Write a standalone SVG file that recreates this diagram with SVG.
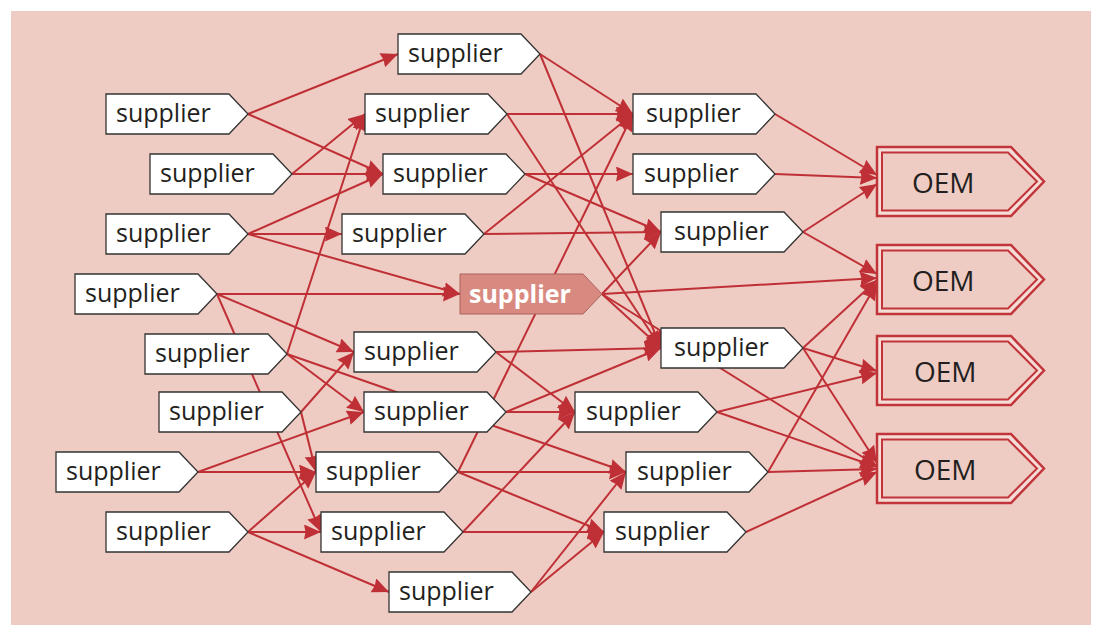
<svg xmlns="http://www.w3.org/2000/svg" xmlns:xlink="http://www.w3.org/1999/xlink" width="1093" height="626" viewBox="0 0 1093 626">
<style>
.box{fill:#ffffff;stroke:#333333;stroke-width:1.3}
.hl{fill:#d98a80;stroke:#a8625a;stroke-width:1}
.t{font-family:"Open Sans","Noto Sans",sans-serif;font-size:25px;fill:#231f20}
.th{font-family:"Open Sans","Noto Sans",sans-serif;font-size:25px;font-weight:bold;fill:#ffffff}
.oo{fill:#f5dcd6;stroke:#c1353a;stroke-width:2.5}
.oi{fill:#efccc3;stroke:#c1353a;stroke-width:2}
.to{font-family:"Open Sans","Noto Sans",sans-serif;font-size:28px;fill:#231f20}
#edges line{stroke:#bf3036;stroke-width:2;marker-end:url(#ah)}
</style>
<defs>
<marker id="ah" viewBox="0 0 17 15" refX="17" refY="7.5" markerWidth="17" markerHeight="15" markerUnits="userSpaceOnUse" orient="auto">
<path d="M0,0 L17,7.5 L0,15 L1.5,7.5 z" fill="#bf3036"/>
</marker>
<polygon id="sup" points="0,-20 123,-20 142,0 123,20 0,20"/>
<polygon id="oemO" points="0,-34.5 134,-34.5 167,0 134,34.5 0,34.5"/>
<polygon id="oemI" points="5,-29 131,-29 160,0 131,29 5,29"/>
</defs>
<rect x="11" y="11" width="1080" height="614" fill="#efccc3"/>
<g id="edges">
<line x1="248" y1="114" x2="398" y2="54"/>
<line x1="248" y1="114" x2="383" y2="174"/>
<line x1="292" y1="174" x2="365" y2="114"/>
<line x1="292" y1="174" x2="383" y2="174"/>
<line x1="248" y1="234" x2="383" y2="174"/>
<line x1="248" y1="234" x2="342" y2="234"/>
<line x1="248" y1="234" x2="460" y2="294"/>
<line x1="217" y1="294" x2="460" y2="294"/>
<line x1="217" y1="294" x2="354" y2="352"/>
<line x1="217" y1="294" x2="321" y2="532"/>
<line x1="287" y1="354" x2="365" y2="114"/>
<line x1="287" y1="354" x2="364" y2="412"/>
<line x1="287" y1="354" x2="626" y2="472"/>
<line x1="301" y1="412" x2="354" y2="352"/>
<line x1="301" y1="412" x2="316" y2="472"/>
<line x1="198" y1="472" x2="364" y2="412"/>
<line x1="198" y1="472" x2="316" y2="472"/>
<line x1="248" y1="532" x2="316" y2="472"/>
<line x1="248" y1="532" x2="321" y2="532"/>
<line x1="248" y1="532" x2="389" y2="592"/>
<line x1="540" y1="54" x2="633" y2="114"/>
<line x1="540" y1="54" x2="661" y2="348"/>
<line x1="507" y1="114" x2="633" y2="114"/>
<line x1="507" y1="114" x2="661" y2="348"/>
<line x1="525" y1="174" x2="633" y2="174"/>
<line x1="525" y1="174" x2="661" y2="232"/>
<line x1="484" y1="234" x2="633" y2="114"/>
<line x1="484" y1="234" x2="661" y2="232"/>
<line x1="602" y1="294" x2="661" y2="232"/>
<line x1="602" y1="294" x2="661" y2="348"/>
<line x1="602" y1="294" x2="877" y2="278"/>
<line x1="602" y1="294" x2="877" y2="466"/>
<line x1="496" y1="352" x2="661" y2="348"/>
<line x1="496" y1="352" x2="575" y2="412"/>
<line x1="506" y1="412" x2="661" y2="348"/>
<line x1="506" y1="412" x2="575" y2="412"/>
<line x1="458" y1="472" x2="633" y2="114"/>
<line x1="458" y1="472" x2="626" y2="472"/>
<line x1="458" y1="472" x2="604" y2="532"/>
<line x1="463" y1="532" x2="575" y2="412"/>
<line x1="463" y1="532" x2="604" y2="532"/>
<line x1="531" y1="592" x2="626" y2="472"/>
<line x1="531" y1="592" x2="604" y2="532"/>
<line x1="775" y1="114" x2="877" y2="175"/>
<line x1="775" y1="174" x2="877" y2="178"/>
<line x1="803" y1="232" x2="877" y2="184"/>
<line x1="803" y1="232" x2="877" y2="274"/>
<line x1="803" y1="348" x2="877" y2="280"/>
<line x1="803" y1="348" x2="877" y2="371"/>
<line x1="803" y1="348" x2="877" y2="463"/>
<line x1="717" y1="412" x2="877" y2="373"/>
<line x1="717" y1="412" x2="877" y2="467"/>
<line x1="768" y1="472" x2="877" y2="283"/>
<line x1="768" y1="472" x2="877" y2="469"/>
<line x1="746" y1="532" x2="877" y2="472"/>
</g>
<g id="A1" transform="translate(106,114)"><use xlink:href="#sup" class="box"/><text class="t" x="10" y="8">supplier</text></g>
<g id="A2" transform="translate(150,174)"><use xlink:href="#sup" class="box"/><text class="t" x="10" y="8">supplier</text></g>
<g id="A3" transform="translate(106,234)"><use xlink:href="#sup" class="box"/><text class="t" x="10" y="8">supplier</text></g>
<g id="A4" transform="translate(75,294)"><use xlink:href="#sup" class="box"/><text class="t" x="10" y="8">supplier</text></g>
<g id="A5" transform="translate(145,354)"><use xlink:href="#sup" class="box"/><text class="t" x="10" y="8">supplier</text></g>
<g id="A6" transform="translate(159,412)"><use xlink:href="#sup" class="box"/><text class="t" x="10" y="8">supplier</text></g>
<g id="A7" transform="translate(56,472)"><use xlink:href="#sup" class="box"/><text class="t" x="10" y="8">supplier</text></g>
<g id="A8" transform="translate(106,532)"><use xlink:href="#sup" class="box"/><text class="t" x="10" y="8">supplier</text></g>
<g id="B1" transform="translate(398,54)"><use xlink:href="#sup" class="box"/><text class="t" x="10" y="8">supplier</text></g>
<g id="B2" transform="translate(365,114)"><use xlink:href="#sup" class="box"/><text class="t" x="10" y="8">supplier</text></g>
<g id="B3" transform="translate(383,174)"><use xlink:href="#sup" class="box"/><text class="t" x="10" y="8">supplier</text></g>
<g id="B4" transform="translate(342,234)"><use xlink:href="#sup" class="box"/><text class="t" x="10" y="8">supplier</text></g>
<g id="B5" transform="translate(460,294)"><use xlink:href="#sup" class="hl"/><text class="th" x="9" y="9">supplier</text></g>
<g id="B6" transform="translate(354,352)"><use xlink:href="#sup" class="box"/><text class="t" x="10" y="8">supplier</text></g>
<g id="B7" transform="translate(364,412)"><use xlink:href="#sup" class="box"/><text class="t" x="10" y="8">supplier</text></g>
<g id="B8" transform="translate(316,472)"><use xlink:href="#sup" class="box"/><text class="t" x="10" y="8">supplier</text></g>
<g id="B9" transform="translate(321,532)"><use xlink:href="#sup" class="box"/><text class="t" x="10" y="8">supplier</text></g>
<g id="B10" transform="translate(389,592)"><use xlink:href="#sup" class="box"/><text class="t" x="10" y="8">supplier</text></g>
<g id="C1" transform="translate(633,114)"><use xlink:href="#sup" class="box"/><text class="t" x="13" y="8">supplier</text></g>
<g id="C2" transform="translate(633,174)"><use xlink:href="#sup" class="box"/><text class="t" x="11" y="8">supplier</text></g>
<g id="C3" transform="translate(661,232)"><use xlink:href="#sup" class="box"/><text class="t" x="13" y="8">supplier</text></g>
<g id="C4" transform="translate(661,348)"><use xlink:href="#sup" class="box"/><text class="t" x="13" y="8">supplier</text></g>
<g id="C5" transform="translate(575,412)"><use xlink:href="#sup" class="box"/><text class="t" x="11" y="8">supplier</text></g>
<g id="C6" transform="translate(626,472)"><use xlink:href="#sup" class="box"/><text class="t" x="11" y="8">supplier</text></g>
<g id="C7" transform="translate(604,532)"><use xlink:href="#sup" class="box"/><text class="t" x="11" y="8">supplier</text></g>
<g id="OEM1" transform="translate(877,181.5)"><use xlink:href="#oemO" class="oo"/><use xlink:href="#oemI" class="oi"/><text class="to" x="35" y="11">OEM</text></g>
<g id="OEM2" transform="translate(877,279.5)"><use xlink:href="#oemO" class="oo"/><use xlink:href="#oemI" class="oi"/><text class="to" x="35" y="11">OEM</text></g>
<g id="OEM3" transform="translate(877,370.5)"><use xlink:href="#oemO" class="oo"/><use xlink:href="#oemI" class="oi"/><text class="to" x="37" y="11">OEM</text></g>
<g id="OEM4" transform="translate(877,468.5)"><use xlink:href="#oemO" class="oo"/><use xlink:href="#oemI" class="oi"/><text class="to" x="37" y="11">OEM</text></g>
</svg>
